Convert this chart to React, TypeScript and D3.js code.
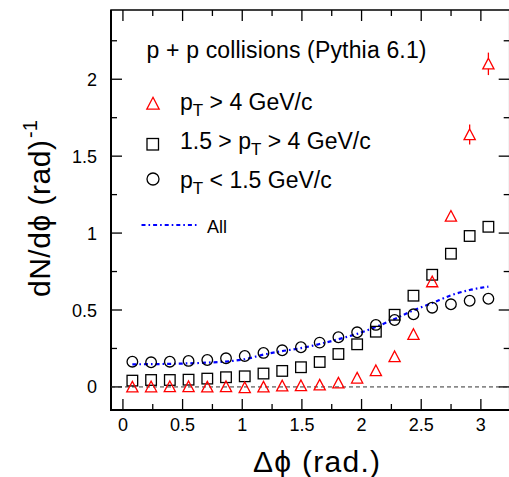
import React, {useEffect, useRef} from 'react'
import * as d3 from 'd3';

// bin centres in delta-phi (rad.)
const dphi = [0.079, 0.236, 0.393, 0.550, 0.707, 0.864, 1.021, 1.178, 1.335, 1.492,
    1.649, 1.806, 1.963, 2.120, 2.277, 2.435, 2.592, 2.749, 2.906, 3.063];

// pT > 4 GeV/c (triangles)
const highPt = [0.000, 0.001, 0.002, 0.002, 0.000, 0.002, -0.004, 0.000, 0.007, 0.009,
    0.013, 0.026, 0.058, 0.106, 0.197, 0.342, 0.684, 1.110, 1.640, 2.100];
const highPtErr = [0, 0, 0, 0, 0, 0, 0, 0, 0, 0,
    0, 0, 0, 0, 0, 0, 0.02, 0.03, 0.065, 0.073];

// 1.5 > pT > 4 GeV/c (squares)
const midPt = [0.041, 0.045, 0.045, 0.047, 0.054, 0.063, 0.069, 0.087, 0.104, 0.128,
    0.162, 0.214, 0.277, 0.359, 0.469, 0.593, 0.729, 0.866, 0.981, 1.041];

// pT < 1.5 GeV/c (circles)
const lowPt = [0.164, 0.160, 0.164, 0.169, 0.175, 0.186, 0.201, 0.221, 0.238, 0.258,
    0.288, 0.323, 0.355, 0.403, 0.435, 0.472, 0.515, 0.537, 0.560, 0.573];

// all particles (dash-dot line)
const allPt = [0.147, 0.148, 0.150, 0.153, 0.158, 0.165, 0.180, 0.210, 0.233, 0.252,
    0.279, 0.310, 0.345, 0.390, 0.442, 0.498, 0.545, 0.595, 0.630, 0.652];

const xTickLabels = ['0', '0.5', '1', '1.5', '2', '2.5', '3'];
const yTickLabels = ['0', '0.5', '1', '1.5', '2'];

const FONT = '"Liberation Sans", Arial, Helvetica, sans-serif';

export default function App(){
    const svgRef = useRef<SVGSVGElement | null>(null);

    const W = 509, H = 477;
    const frame = {left: 111, right: 509.7, top: 10, bottom: 410};

    useEffect(() => {
        const svg = d3.select(svgRef.current);
        svg.selectAll('*').remove();

        const x = d3.scaleLinear().domain([-0.1, Math.PI + 0.1]).range([frame.left, frame.right]);
        const y = d3.scaleLinear().domain([-0.15, 2.45]).range([frame.bottom, frame.top]);

        const xMinor = d3.range(0, 3.26, 0.25).filter(v => v <= Math.PI + 0.1);
        const yMinor = d3.range(0, 2.3, 0.25);
        const isMajor = (v: number) => Math.abs(v * 2 - Math.round(v * 2)) < 1e-6;
        const tl = (v: number) => isMajor(v) ? 11 : 6;

        // frame
        svg.append('rect')
            .attr('x', frame.left).attr('y', frame.top)
            .attr('width', frame.right - frame.left).attr('height', frame.bottom - frame.top)
            .attr('fill', 'none').attr('stroke', 'black').attr('stroke-width', 1.5);
        svg.append('line')
            .attr('x1', frame.left).attr('x2', frame.left)
            .attr('y1', frame.top).attr('y2', frame.bottom + 1)
            .attr('stroke', 'black').attr('stroke-width', 2);
        svg.append('line')
            .attr('x1', frame.left - 1).attr('x2', frame.right)
            .attr('y1', frame.bottom).attr('y2', frame.bottom)
            .attr('stroke', 'black').attr('stroke-width', 2);

        // ticks, drawn inward on all four sides
        const ticks = svg.append('g').attr('stroke', 'black').attr('stroke-width', 1.3);
        xMinor.forEach(v => {
            ticks.append('line').attr('x1', x(v)).attr('x2', x(v))
                .attr('y1', frame.bottom).attr('y2', frame.bottom - tl(v));
            ticks.append('line').attr('x1', x(v)).attr('x2', x(v))
                .attr('y1', frame.top).attr('y2', frame.top + tl(v));
        });
        yMinor.forEach(v => {
            ticks.append('line').attr('y1', y(v)).attr('y2', y(v))
                .attr('x1', frame.left).attr('x2', frame.left + tl(v));
            ticks.append('line').attr('y1', y(v)).attr('y2', y(v))
                .attr('x1', frame.right).attr('x2', frame.right - tl(v));
        });

        // tick labels
        svg.append('g')
            .selectAll('text')
            .data(xTickLabels)
            .join('text')
            .attr('x', d => x(+d))
            .attr('y', 431)
            .attr('text-anchor', 'middle')
            .attr('font-family', FONT)
            .attr('font-size', '18px')
            .text(d => d);
        svg.append('g')
            .selectAll('text')
            .data(yTickLabels)
            .join('text')
            .attr('x', 97)
            .attr('y', d => y(+d) + 6.5)
            .attr('text-anchor', 'end')
            .attr('font-family', FONT)
            .attr('font-size', '18px')
            .text(d => d);

        // zero line
        svg.append('line')
            .attr('x1', frame.left).attr('x2', frame.right)
            .attr('y1', y(0)).attr('y2', y(0))
            .attr('stroke', '#333').attr('stroke-width', 1)
            .attr('stroke-dasharray', '4,3');

        const triPath = (cx: number, cy: number, s = 5.6) =>
            `M${cx},${cy - s}L${cx + s},${cy + s * 0.9}L${cx - s},${cy + s * 0.9}Z`;

        // all particles line
        const line = d3.line<number>()
            .x((d, i) => x(dphi[i]))
            .y(d => y(d))
            .curve(d3.curveMonotoneX);
        svg.append('path')
            .attr('d', line(allPt))
            .attr('fill', 'none')
            .attr('stroke', '#0000ff')
            .attr('stroke-width', 2.2)
            .attr('stroke-dasharray', '4,3,1.6,3');

        // circles
        svg.append('g')
            .selectAll('circle')
            .data(lowPt)
            .join('circle')
            .attr('cx', (d, i) => x(dphi[i]))
            .attr('cy', d => y(d))
            .attr('r', 5.3)
            .attr('fill', 'none')
            .attr('stroke', 'black')
            .attr('stroke-width', 1.3);

        // squares
        svg.append('g')
            .selectAll('rect')
            .data(midPt)
            .join('rect')
            .attr('x', (d, i) => x(dphi[i]) - 5.3)
            .attr('y', d => y(d) - 5.3)
            .attr('width', 10.6)
            .attr('height', 10.6)
            .attr('fill', 'none')
            .attr('stroke', 'black')
            .attr('stroke-width', 1.3);

        // triangles with error bars outside the marker
        const tri = svg.append('g').attr('stroke', '#ff0000').attr('stroke-width', 1.3).attr('fill', 'none');
        highPt.forEach((v, i) => {
            const cx = x(dphi[i]), cy = y(v);
            const e = highPtErr[i];
            if (e > 0) {
                if (y(v + e) < cy - 5.6)
                    tri.append('line').attr('x1', cx).attr('x2', cx).attr('y1', y(v + e)).attr('y2', cy - 5.6);
                if (y(v - e) > cy + 5)
                    tri.append('line').attr('x1', cx).attr('x2', cx).attr('y1', cy + 5).attr('y2', y(v - e));
            }
            tri.append('path').attr('d', triPath(cx, cy));
        });

        // legend
        const leg = svg.append('g').attr('font-family', FONT).attr('fill', 'black');
        leg.append('text').attr('x', 146.5).attr('y', 58).attr('font-size', '23px')
            .attr('textLength', 280).attr('lengthAdjust', 'spacing')
            .text('p + p collisions (Pythia 6.1)');

        leg.append('path').attr('d', triPath(153, 103.5, 6.2))
            .attr('fill', 'none').attr('stroke', '#ff0000').attr('stroke-width', 1.3);
        leg.append('rect').attr('x', 147).attr('y', 138.5).attr('width', 11.5).attr('height', 11.5)
            .attr('fill', 'none').attr('stroke', 'black').attr('stroke-width', 1.3);
        leg.append('circle').attr('cx', 153).attr('cy', 179).attr('r', 6)
            .attr('fill', 'none').attr('stroke', 'black').attr('stroke-width', 1.3);

        const entry = (yb: number, pre: string, post: string) => {
            const t = leg.append('text').attr('x', 180).attr('y', yb).attr('font-size', '23px');
            t.append('tspan').text(pre + 'p');
            t.append('tspan').attr('font-size', '17px').attr('dy', 6).text('T');
            t.append('tspan').attr('dy', -6).text(post);
        };
        entry(110, '', ' > 4 GeV/c');
        entry(149, '1.5 > ', ' > 4 GeV/c');
        entry(188, '', ' < 1.5 GeV/c');

        leg.append('line').attr('x1', 141.5).attr('x2', 198.5).attr('y1', 225).attr('y2', 225)
            .attr('stroke', '#0000ff').attr('stroke-width', 2.2).attr('stroke-dasharray', '4,3,1.6,3');
        leg.append('text').attr('x', 207).attr('y', 233).attr('font-size', '18px').text('All');

        // axis titles
        svg.append('text')
            .attr('x', 253).attr('y', 471.5)
            .attr('font-family', FONT).attr('font-size', '30px')
            .attr('textLength', 127).attr('lengthAdjust', 'spacing')
            .text('\u0394\u03d5 (rad.)');

        const yt = svg.append('g').attr('transform', 'translate(50,297) rotate(-90)')
            .attr('font-family', FONT);
        yt.append('text').attr('x', 0).attr('y', 0).attr('font-size', '30px')
            .attr('textLength', 157).attr('lengthAdjust', 'spacing')
            .text('dN/d\u03d5 (rad)');
        yt.append('text').attr('x', 159).attr('y', -13).attr('font-size', '20px').text('-1');
    });

    return (
        <svg
            ref={svgRef}
            width={W}
            height={H}
            style={{position: 'absolute', left: 0, top: 0, background: 'white'}}
        />
    );
}
